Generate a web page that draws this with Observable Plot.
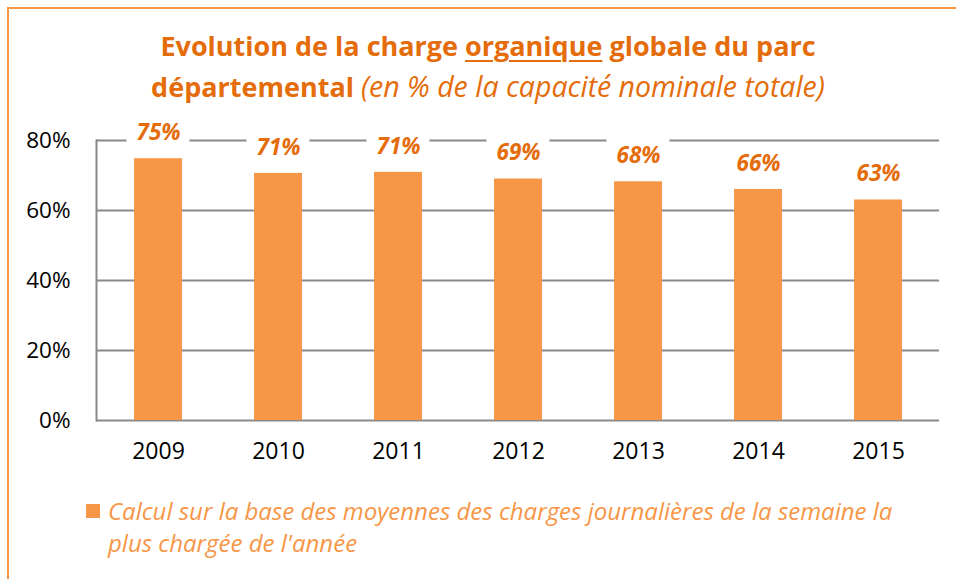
<!DOCTYPE html>
<html>
<head>
<meta charset="utf-8">
<script src="https://cdn.jsdelivr.net/npm/d3@7"></script>
<script src="https://cdn.jsdelivr.net/npm/@observablehq/plot@0.6"></script>
<style>
  html, body { margin: 0; padding: 0; background: #fff; width: 956px; height: 579px; overflow: hidden; }
  #wrap { position: relative; width: 956px; height: 579px; font-family: "Open Sans", Lato, sans-serif; }
  #border { position: absolute; left: 7px; top: 7px; width: 1000px; height: 700px; border-top: 2px solid #F79646; border-left: 2px solid #F79646; }
  #title { position: absolute; left: 0; top: 26px; width: 976px; text-align: center; color: #E46C0A; font-weight: bold; font-size: 27px; line-height: 40px; white-space: nowrap; }
  #title u { text-decoration-thickness: 2px; text-underline-offset: 4px; }
  #title i { font-weight: normal; font-size: 28.5px; }
  #chart { position: absolute; left: 0; top: 100px; }
  #legend { position: absolute; left: 86px; top: 495px; width: 870px; color: #F79646; font-style: italic; font-size: 24px; line-height: 32px; white-space: nowrap; }
  #legend .sw { position: absolute; left: 0; top: 9px; width: 14px; height: 14px; background: #F79646; }
  #legend .tx { margin-left: 22px; }
</style>
</head>
<body>
<div id="wrap">
  <div id="border"></div>
  <div id="title">Evolution de la charge <u>organique</u> globale du parc<br>départemental <i>(en % de la capacité nominale totale)</i></div>
  <div id="chart"></div>
  <div id="legend"><div class="sw"></div><div class="tx">Calcul sur la base des moyennes des charges journalières de la semaine la<br>plus chargée de l'année</div></div>
</div>
<script>
const years = ["2009", "2010", "2011", "2012", "2013", "2014", "2015"];
const values = [74.8, 70.6, 70.9, 69.0, 68.2, 66.0, 63.0];
const labels = ["75%", "71%", "71%", "69%", "68%", "66%", "63%"];
const yTicks = [0, 20, 40, 60, 80];

const data = years.map((y, i) => ({year: y, value: values[i], label: labels[i]}));

const chart = Plot.plot({
  width: 956,
  height: 380,
  marginLeft: 96,
  marginRight: 17,
  marginTop: 40,
  marginBottom: 60,
  style: {fontFamily: "'Open Sans', Lato, sans-serif", background: "transparent", overflow: "visible"},
  x: {domain: years, paddingInner: 0.6, paddingOuter: 0.3, label: null},
  y: {domain: [0, 80], label: null},
  marks: [
    Plot.ruleY(yTicks, {stroke: "#898989", strokeWidth: 2}),
    Plot.frame({anchor: "left", stroke: "#898989", strokeWidth: 2}),
    Plot.barY(data, {x: "year", y: "value", fill: "#F79646"}),
    Plot.barY(data, {x: "year", y1: "value", y2: "value", fill: "white", insetLeft: -7.5, insetRight: -7.5, insetTop: -47, insetBottom: 8}),
    Plot.text(data, {x: "year", y: "value", text: "label", dy: -26, fill: "#E46C0A", fontWeight: "bold", fontStyle: "italic", fontSize: 22.5}),
    Plot.axisY({ticks: yTicks, tickFormat: d => d + "%", tickSize: 0, tickPadding: 26, fontSize: 22.5, fill: "#000", label: null}),
    Plot.axisX({tickSize: 0, tickPadding: 22, fontSize: 23, fill: "#000", label: null})
  ]
});
document.getElementById("chart").appendChild(chart);
</script>
</body>
</html>
